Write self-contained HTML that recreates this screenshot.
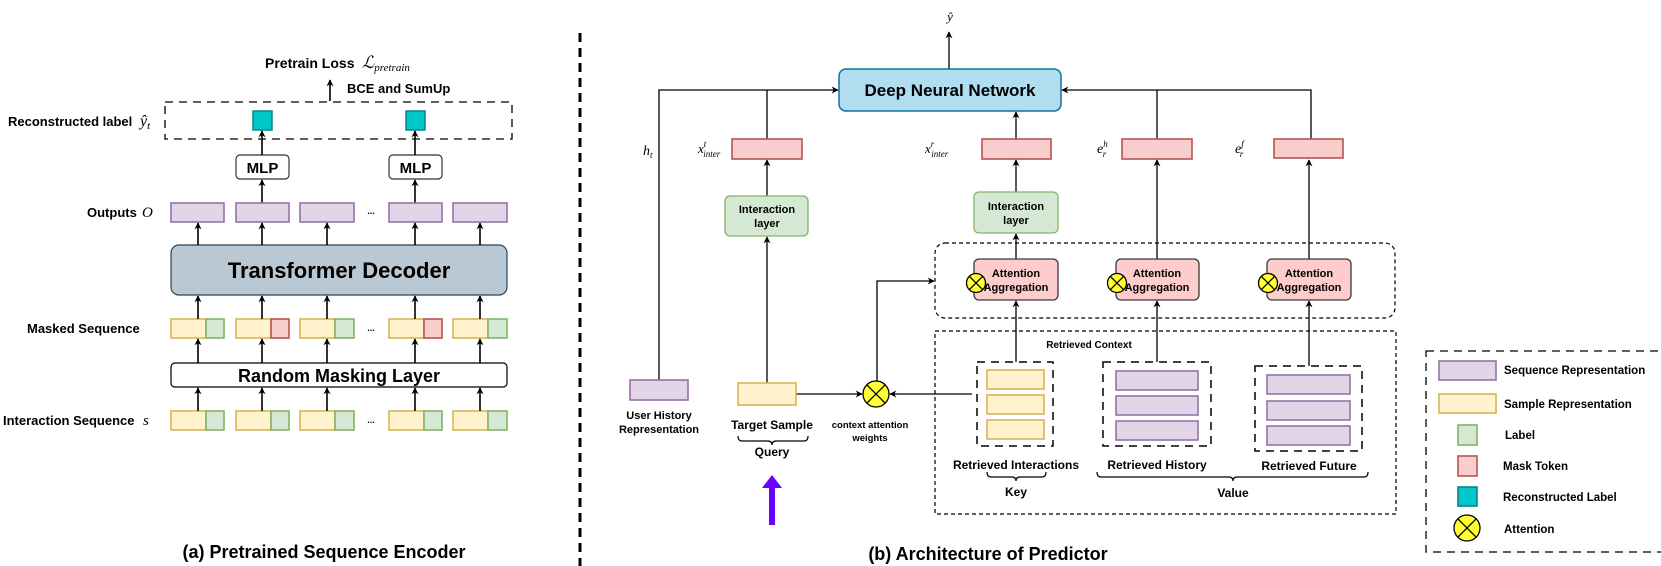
<!DOCTYPE html>
<html><head><meta charset="utf-8"><style>
html,body{margin:0;padding:0;background:#fff;}
svg{display:block;}
text{font-family:"Liberation Sans",Arial,sans-serif;font-weight:bold;fill:#000;}
.m{font-family:"Liberation Serif",serif;font-style:italic;font-weight:normal;}
</style></head><body>
<svg width="1661" height="566" viewBox="0 0 1661 566" xmlns="http://www.w3.org/2000/svg">
<defs>
<marker id="a" viewBox="0 0 10 10" refX="9" refY="5" markerWidth="7" markerHeight="7" orient="auto-start-reverse" markerUnits="userSpaceOnUse">
<path d="M0,0 L10,5 L0,10 L3,5 z" fill="#000"/></marker>
<marker id="b" viewBox="0 0 10 10" refX="9" refY="5" markerWidth="9" markerHeight="9" orient="auto" markerUnits="userSpaceOnUse">
<path d="M0,0 L10,5 L0,10 L3,5 z" fill="#000"/></marker>
</defs>

<!-- ============ LEFT PANEL ============ -->
<text x="265" y="68" font-size="14">Pretrain Loss</text>
<text x="362" y="68" class="m" font-size="17">ℒ<tspan font-size="11" dy="3">pretrain</tspan></text>
<line x1="330" y1="101" x2="330" y2="80" stroke="#000" stroke-width="1.6" marker-end="url(#a)"/>
<text x="347" y="93" font-size="13">BCE and SumUp</text>

<rect x="165" y="102" width="347" height="37" fill="none" stroke="#000" stroke-width="1.3" stroke-dasharray="8,6"/>
<text x="8" y="126" font-size="13">Reconstructed label</text>
<text x="140" y="126" class="m" font-size="16">ŷ<tspan font-size="11" dy="3">t</tspan></text>
<rect x="253" y="111" width="19" height="19" fill="#00c8c8" stroke="#0e8088" stroke-width="1.5"/>
<rect x="406" y="111" width="19" height="19" fill="#00c8c8" stroke="#0e8088" stroke-width="1.5"/>

<rect x="236" y="155" width="53" height="24" rx="4" fill="#fff" stroke="#333" stroke-width="1.2"/>
<text x="262.5" y="173" font-size="15" text-anchor="middle">MLP</text>
<rect x="389" y="155" width="53" height="24" rx="4" fill="#fff" stroke="#333" stroke-width="1.2"/>
<text x="415.5" y="173" font-size="15" text-anchor="middle">MLP</text>
<g stroke="#000" stroke-width="1.6">
<line x1="262" y1="155" x2="262" y2="131" marker-end="url(#a)"/>
<line x1="415" y1="155" x2="415" y2="131" marker-end="url(#a)"/>
<line x1="262" y1="203" x2="262" y2="180" marker-end="url(#a)"/>
<line x1="415" y1="203" x2="415" y2="180" marker-end="url(#a)"/>
</g>

<text x="87" y="217" font-size="13">Outputs</text>
<text x="142" y="217" class="m" font-size="15">O</text>
<g fill="#e1d5e7" stroke="#9673a6" stroke-width="1.6">
<rect x="171" y="203" width="53" height="19"/><rect x="236" y="203" width="53" height="19"/>
<rect x="300" y="203" width="54" height="19"/><rect x="389" y="203" width="53" height="19"/>
<rect x="453" y="203" width="54" height="19"/></g>
<text x="371" y="214" font-size="9" font-weight="normal" text-anchor="middle">...</text>

<rect x="171" y="245" width="336" height="50" rx="8" fill="#bac8d3" stroke="#23445d" stroke-width="1.2"/>
<text x="339" y="278" font-size="22" text-anchor="middle">Transformer Decoder</text>

<text x="27" y="333" font-size="13">Masked Sequence</text>
<g stroke-width="1.6">
<rect x="171" y="319" width="35" height="19" fill="#fff2cc" stroke="#d6b656"/><rect x="206" y="319" width="18" height="19" fill="#d5e8d4" stroke="#82b366"/>
<rect x="236" y="319" width="35" height="19" fill="#fff2cc" stroke="#d6b656"/><rect x="271" y="319" width="18" height="19" fill="#f8cecc" stroke="#b85450"/>
<rect x="300" y="319" width="35" height="19" fill="#fff2cc" stroke="#d6b656"/><rect x="335" y="319" width="19" height="19" fill="#d5e8d4" stroke="#82b366"/>
<rect x="389" y="319" width="35" height="19" fill="#fff2cc" stroke="#d6b656"/><rect x="424" y="319" width="18" height="19" fill="#f8cecc" stroke="#b85450"/>
<rect x="453" y="319" width="35" height="19" fill="#fff2cc" stroke="#d6b656"/><rect x="488" y="319" width="19" height="19" fill="#d5e8d4" stroke="#82b366"/>
</g>
<text x="371" y="331" font-size="9" font-weight="normal" text-anchor="middle">...</text>

<rect x="171" y="363" width="336" height="24" rx="4" fill="#fff" stroke="#000" stroke-width="1.2"/>
<text x="339" y="382" font-size="18" text-anchor="middle">Random Masking Layer</text>

<text x="3" y="425" font-size="13">Interaction Sequence</text>
<text x="143" y="425" class="m" font-size="15">s</text>
<g stroke-width="1.6">
<rect x="171" y="411" width="35" height="19" fill="#fff2cc" stroke="#d6b656"/><rect x="206" y="411" width="18" height="19" fill="#d5e8d4" stroke="#82b366"/>
<rect x="236" y="411" width="35" height="19" fill="#fff2cc" stroke="#d6b656"/><rect x="271" y="411" width="18" height="19" fill="#d5e8d4" stroke="#82b366"/>
<rect x="300" y="411" width="35" height="19" fill="#fff2cc" stroke="#d6b656"/><rect x="335" y="411" width="19" height="19" fill="#d5e8d4" stroke="#82b366"/>
<rect x="389" y="411" width="35" height="19" fill="#fff2cc" stroke="#d6b656"/><rect x="424" y="411" width="18" height="19" fill="#d5e8d4" stroke="#82b366"/>
<rect x="453" y="411" width="35" height="19" fill="#fff2cc" stroke="#d6b656"/><rect x="488" y="411" width="19" height="19" fill="#d5e8d4" stroke="#82b366"/>
</g>
<text x="371" y="423" font-size="9" font-weight="normal" text-anchor="middle">...</text>

<g stroke="#000" stroke-width="1.6">
<line x1="198" y1="411" x2="198" y2="388" marker-end="url(#a)"/><line x1="262" y1="411" x2="262" y2="388" marker-end="url(#a)"/>
<line x1="327" y1="411" x2="327" y2="388" marker-end="url(#a)"/><line x1="415" y1="411" x2="415" y2="388" marker-end="url(#a)"/>
<line x1="480" y1="411" x2="480" y2="388" marker-end="url(#a)"/>
<line x1="198" y1="363" x2="198" y2="339" marker-end="url(#a)"/><line x1="262" y1="363" x2="262" y2="339" marker-end="url(#a)"/>
<line x1="327" y1="363" x2="327" y2="339" marker-end="url(#a)"/><line x1="415" y1="363" x2="415" y2="339" marker-end="url(#a)"/>
<line x1="480" y1="363" x2="480" y2="339" marker-end="url(#a)"/>
<line x1="198" y1="319" x2="198" y2="296" marker-end="url(#a)"/><line x1="262" y1="319" x2="262" y2="296" marker-end="url(#a)"/>
<line x1="327" y1="319" x2="327" y2="296" marker-end="url(#a)"/><line x1="415" y1="319" x2="415" y2="296" marker-end="url(#a)"/>
<line x1="480" y1="319" x2="480" y2="296" marker-end="url(#a)"/>
<line x1="198" y1="245" x2="198" y2="223" marker-end="url(#a)"/><line x1="262" y1="245" x2="262" y2="223" marker-end="url(#a)"/>
<line x1="327" y1="245" x2="327" y2="223" marker-end="url(#a)"/><line x1="415" y1="245" x2="415" y2="223" marker-end="url(#a)"/>
<line x1="480" y1="245" x2="480" y2="223" marker-end="url(#a)"/>
</g>
<text x="324" y="558" font-size="18" text-anchor="middle">(a) Pretrained Sequence Encoder</text>

<!-- divider -->
<line x1="580" y1="33" x2="580" y2="566" stroke="#000" stroke-width="3" stroke-dasharray="9,6"/>

<!-- ============ RIGHT PANEL ============ -->
<text x="950" y="21" class="m" font-size="13" text-anchor="middle">ŷ</text>
<line x1="949" y1="69" x2="949" y2="32" stroke="#000" stroke-width="1.3" marker-end="url(#a)"/>
<rect x="839" y="69" width="222" height="42" rx="7" fill="#b1ddf0" stroke="#10739e" stroke-width="1.5"/>
<text x="950" y="96" font-size="17" text-anchor="middle">Deep Neural Network</text>

<g stroke="#000" stroke-width="1.3" fill="none">
<polyline points="659,380 659,90 838,90" marker-end="url(#a)"/>
<line x1="767" y1="139" x2="767" y2="90"/>
<polyline points="1311,139 1311,90 1062,90" marker-end="url(#a)"/>
<line x1="1157" y1="139" x2="1157" y2="90"/>
<line x1="1016" y1="139" x2="1016" y2="112" marker-end="url(#a)"/>
<line x1="767" y1="196" x2="767" y2="160" marker-end="url(#a)"/>
<line x1="767" y1="383" x2="767" y2="237" marker-end="url(#a)"/>
<line x1="1016" y1="192" x2="1016" y2="160" marker-end="url(#a)"/>
<line x1="1016" y1="259" x2="1016" y2="234" marker-end="url(#a)"/>
<line x1="1157" y1="259" x2="1157" y2="160" marker-end="url(#a)"/>
<line x1="1309" y1="259" x2="1309" y2="160" marker-end="url(#a)"/>
<line x1="1016" y1="362" x2="1016" y2="301" marker-end="url(#a)"/>
<line x1="1157" y1="362" x2="1157" y2="301" marker-end="url(#a)"/>
<line x1="1309" y1="366" x2="1309" y2="301" marker-end="url(#a)"/>
<polyline points="877,381 877,281 934,281" marker-end="url(#a)"/>
<line x1="796" y1="394" x2="862" y2="394" marker-end="url(#a)"/>
<line x1="972" y1="394" x2="890" y2="394" marker-end="url(#a)"/>
</g>

<text x="643" y="155" class="m" font-size="14">h<tspan font-size="9" dy="3">t</tspan></text>
<text x="698" y="153" class="m" font-size="13">x<tspan font-size="9" dy="-6">t</tspan><tspan font-size="9" dx="-3" dy="10">inter</tspan></text>
<rect x="732" y="139" width="70" height="20" fill="#f8cecc" stroke="#b85450" stroke-width="1.6"/>
<text x="925" y="153" class="m" font-size="13">x<tspan font-size="9" dy="-6">r</tspan><tspan font-size="9" dx="-3" dy="10">inter</tspan></text>
<rect x="982" y="139" width="69" height="20" fill="#f8cecc" stroke="#b85450" stroke-width="1.6"/>
<text x="1097" y="153" class="m" font-size="14">e<tspan font-size="9" dy="-6">h</tspan><tspan font-size="9" dx="-5" dy="10">r</tspan></text>
<rect x="1122" y="139" width="70" height="20" fill="#f8cecc" stroke="#b85450" stroke-width="1.6"/>
<text x="1235" y="153" class="m" font-size="14">e<tspan font-size="9" dy="-6">f</tspan><tspan font-size="9" dx="-4" dy="10">r</tspan></text>
<rect x="1274" y="139" width="69" height="19" fill="#f8cecc" stroke="#b85450" stroke-width="1.6"/>

<rect x="725" y="196" width="83" height="40" rx="5" fill="#d5e8d4" stroke="#82b366" stroke-width="1.3"/>
<text x="767" y="213" font-size="11" text-anchor="middle">Interaction</text>
<text x="767" y="227" font-size="11" text-anchor="middle">layer</text>
<rect x="974" y="192" width="84" height="41" rx="5" fill="#d5e8d4" stroke="#82b366" stroke-width="1.3"/>
<text x="1016" y="210" font-size="11" text-anchor="middle">Interaction</text>
<text x="1016" y="224" font-size="11" text-anchor="middle">layer</text>

<!-- attention group box -->
<rect x="935" y="243" width="460" height="75" rx="10" fill="none" stroke="#000" stroke-width="1.2" stroke-dasharray="4,3"/>
<g>
<rect x="974" y="259" width="84" height="41" rx="5" fill="#ffcccc" stroke="#36393d" stroke-width="1.3"/>
<text x="1016" y="277" font-size="11" text-anchor="middle">Attention</text>
<text x="1016" y="291" font-size="11" text-anchor="middle">Aggregation</text>
<rect x="1116" y="259" width="83" height="41" rx="5" fill="#ffcccc" stroke="#36393d" stroke-width="1.3"/>
<text x="1157" y="277" font-size="11" text-anchor="middle">Attention</text>
<text x="1157" y="291" font-size="11" text-anchor="middle">Aggregation</text>
<rect x="1267" y="259" width="84" height="41" rx="5" fill="#ffcccc" stroke="#36393d" stroke-width="1.3"/>
<text x="1309" y="277" font-size="11" text-anchor="middle">Attention</text>
<text x="1309" y="291" font-size="11" text-anchor="middle">Aggregation</text>
</g>
<g stroke="#000" stroke-width="1.3" fill="#ffff33">
<circle cx="976" cy="283" r="9.5"/><path d="M969.3,276.3 L982.7,289.7 M982.7,276.3 L969.3,289.7" fill="none"/>
<circle cx="1117" cy="283" r="9.5"/><path d="M1110.3,276.3 L1123.7,289.7 M1123.7,276.3 L1110.3,289.7" fill="none"/>
<circle cx="1268" cy="283" r="9.5"/><path d="M1261.3,276.3 L1274.7,289.7 M1274.7,276.3 L1261.3,289.7" fill="none"/>
</g>

<!-- retrieved context box -->
<rect x="935" y="331" width="461" height="183" fill="none" stroke="#000" stroke-width="1.2" stroke-dasharray="4,3"/>
<text x="1089" y="348" font-size="10" text-anchor="middle">Retrieved Context</text>

<rect x="977" y="362" width="76" height="84" fill="none" stroke="#000" stroke-width="1.5" stroke-dasharray="8,6"/>
<g fill="#fff2cc" stroke="#d6b656" stroke-width="1.6">
<rect x="987" y="370" width="57" height="19"/><rect x="987" y="395" width="57" height="19"/><rect x="987" y="420" width="57" height="19"/></g>
<rect x="1103" y="362" width="108" height="84" fill="none" stroke="#000" stroke-width="1.5" stroke-dasharray="8,6"/>
<g fill="#e1d5e7" stroke="#9673a6" stroke-width="1.6">
<rect x="1116" y="371" width="82" height="19"/><rect x="1116" y="396" width="82" height="19"/><rect x="1116" y="421" width="82" height="19"/></g>
<rect x="1255" y="366" width="107" height="85" fill="none" stroke="#000" stroke-width="1.5" stroke-dasharray="8,6"/>
<g fill="#e1d5e7" stroke="#9673a6" stroke-width="1.6">
<rect x="1267" y="375" width="83" height="19"/><rect x="1267" y="401" width="83" height="19"/><rect x="1267" y="426" width="83" height="19"/></g>

<text x="1016" y="469" font-size="12" text-anchor="middle">Retrieved Interactions</text>
<text x="1157" y="469" font-size="12" text-anchor="middle">Retrieved History</text>
<text x="1309" y="470" font-size="12" text-anchor="middle">Retrieved Future</text>
<g fill="none" stroke="#000" stroke-width="1.2">
<path d="M987,472 q0,5 4,5 h21 q4,0 4,4 q0,-4 4,-4 h22 q4,0 4,-5"/>
<path d="M1097,472 q0,5 4,5 h128 q4,0 4,4 q0,-4 4,-4 h127 q4,0 4,-5"/>
<path d="M738,436 q0,5 4,5 h26 q4,0 4,4 q0,-4 4,-4 h28 q4,0 4,-5"/>
</g>
<text x="1016" y="496" font-size="12" text-anchor="middle">Key</text>
<text x="1233" y="497" font-size="12" text-anchor="middle">Value</text>

<!-- left inputs -->
<rect x="630" y="380" width="58" height="20" fill="#e1d5e7" stroke="#9673a6" stroke-width="1.6"/>
<text x="659" y="419" font-size="11" text-anchor="middle">User History</text>
<text x="659" y="433" font-size="11" text-anchor="middle">Representation</text>
<rect x="738" y="383" width="58" height="22" fill="#fff2cc" stroke="#d6b656" stroke-width="1.6"/>
<text x="772" y="429" font-size="12" text-anchor="middle">Target Sample</text>
<text x="772" y="456" font-size="12" text-anchor="middle">Query</text>
<g stroke="#000" stroke-width="1.3" fill="#ffff33">
<circle cx="876" cy="394" r="13"/><path d="M866.8,384.8 L885.2,403.2 M885.2,384.8 L866.8,403.2" fill="none"/></g>
<text x="870" y="428" font-size="9.5" text-anchor="middle">context attention</text>
<text x="870" y="441" font-size="9.5" text-anchor="middle">weights</text>
<path d="M769,525 L775,525 L775,488 L782,488 L772,475 L762,488 L769,488 Z" fill="#6a00ff"/>

<text x="988" y="560" font-size="18" text-anchor="middle">(b) Architecture of Predictor</text>

<!-- legend -->
<rect x="1426" y="351" width="236" height="201" fill="none" stroke="#000" stroke-width="1.3" stroke-dasharray="8,6"/>
<rect x="1439" y="361" width="57" height="19" fill="#e1d5e7" stroke="#9673a6" stroke-width="1.6"/>
<text x="1504" y="374" font-size="11.5">Sequence Representation</text>
<rect x="1439" y="394" width="57" height="19" fill="#fff2cc" stroke="#d6b656" stroke-width="1.6"/>
<text x="1504" y="408" font-size="11.5">Sample Representation</text>
<rect x="1458" y="425" width="19" height="20" fill="#d5e8d4" stroke="#82b366" stroke-width="1.6"/>
<text x="1505" y="439" font-size="11.5">Label</text>
<rect x="1458" y="456" width="19" height="20" fill="#f8cecc" stroke="#b85450" stroke-width="1.6"/>
<text x="1503" y="470" font-size="11.5">Mask Token</text>
<rect x="1458" y="487" width="19" height="19" fill="#00c8c8" stroke="#0e8088" stroke-width="1.6"/>
<text x="1503" y="501" font-size="11.5">Reconstructed Label</text>
<g stroke="#000" stroke-width="1.3" fill="#ffff33">
<circle cx="1467" cy="528" r="13"/><path d="M1457.8,518.8 L1476.2,537.2 M1476.2,518.8 L1457.8,537.2" fill="none"/></g>
<text x="1504" y="533" font-size="11.5">Attention</text>
</svg>
</body></html>
